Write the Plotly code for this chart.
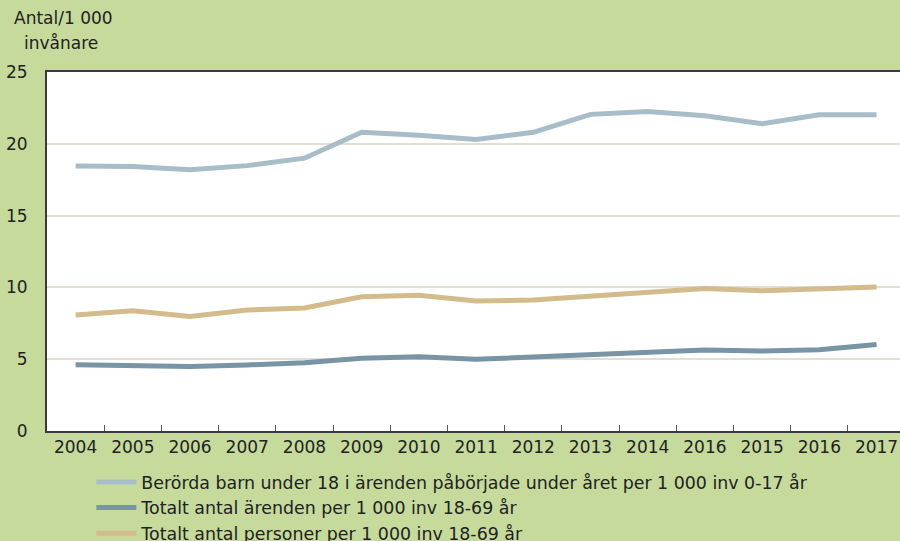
import plotly.graph_objects as go

years = ["2004", "2005", "2006", "2007", "2008", "2009", "2010", "2011",
         "2012", "2013", "2014", "2016", "2015", "2016", "2017"]

barn = [18.45, 18.42, 18.2, 18.48, 19.0, 20.8, 20.6, 20.3, 20.8, 22.05,
        22.25, 21.95, 21.4, 22.02, 22.03]
arenden = [4.62, 4.53, 4.5, 4.6, 4.76, 5.06, 5.17, 4.99, 5.17, 5.32,
           5.5, 5.64, 5.57, 5.66, 6.02]
personer = [8.08, 8.38, 7.98, 8.43, 8.57, 9.35, 9.45, 9.05, 9.12, 9.4,
            9.68, 9.93, 9.77, 9.91, 10.03]

names = ["Berörda barn under 18 i ärenden påbörjade under året per 1 000 inv 0-17 år",
         "Totalt antal ärenden per 1 000 inv 18-69 år",
         "Totalt antal personer per 1 000 inv 18-69 år"]
colors = ["#a8bdc8", "#7894a5", "#d3bb8c"]

pos = list(range(len(years)))
font = "DejaVu Sans"

fig = go.Figure()
for vals, name, col in zip([barn, arenden, personer], names, colors):
    fig.add_trace(go.Scatter(x=pos, y=vals, name=name, mode="lines",
                             line=dict(color=col, width=5)))

fig.update_layout(
    width=900, height=541,
    paper_bgcolor="#c6da9b",
    plot_bgcolor="white",
    margin=dict(l=47, r=0, t=72, b=110, autoexpand=False),
    font=dict(family=font, size=17, color="#222222"),
    showlegend=True,
    legend=dict(orientation="v", x=0.052, xanchor="left",
                yref="container", y=0.142, yanchor="top",
                bgcolor="rgba(0,0,0,0)", font=dict(size=17.4), tracegroupgap=0,
                itemwidth=40),
    annotations=[
        dict(text="Antal/1 000", xref="paper", yref="paper", x=-0.041, y=1.15,
             xanchor="left", yanchor="middle", showarrow=False),
        dict(text="invånare", xref="paper", yref="paper", x=-0.0293, y=1.081,
             xanchor="left", yanchor="middle", showarrow=False),
    ],
)

fig.update_xaxes(
    range=[-0.5, 14.41],
    tickvals=pos, ticktext=years, ticks="",
    showgrid=False, zeroline=False,
    showline=True, linecolor="#3a3a3a", linewidth=2, mirror=True,
    minor=dict(tickvals=[p + 0.5 for p in pos], ticks="inside", ticklen=6,
               tickcolor="#555555", showgrid=False),
)
fig.update_yaxes(
    range=[0, 25], dtick=5, ticks="",
    showgrid=True, gridcolor="#e2dfd6", gridwidth=1.5, zeroline=False,
    showline=True, linecolor="#3a3a3a", linewidth=2,
    ticklabelstandoff=14,
)

fig.write_html("out.html", config={"displayModeBar": False},
               post_script="document.body.style.margin='0';")
